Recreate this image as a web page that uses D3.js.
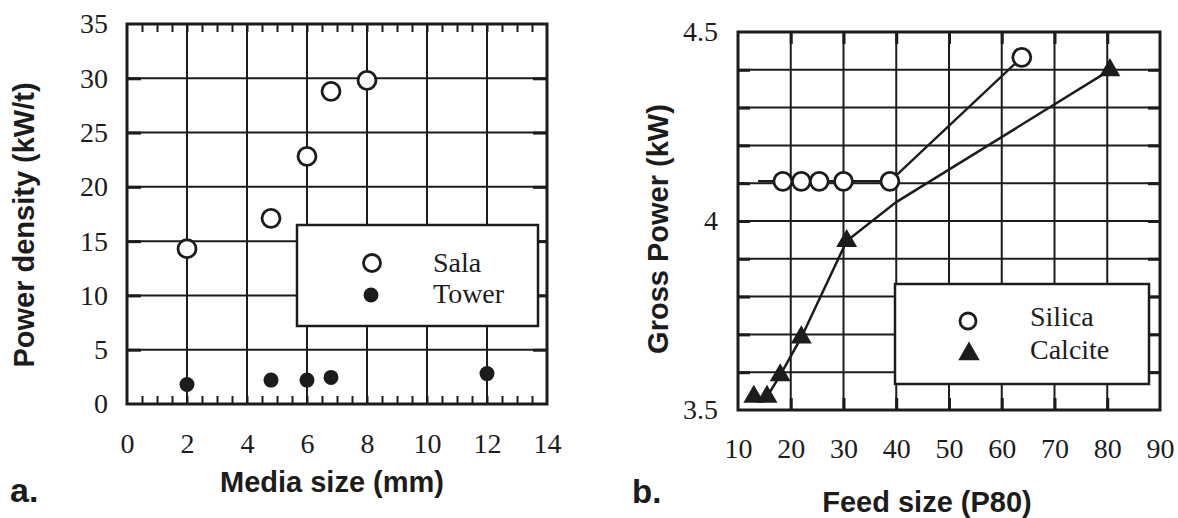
<!DOCTYPE html>
<html><head><meta charset="utf-8">
<script src="https://cdn.jsdelivr.net/npm/d3@7"></script>
<style>body{margin:0;background:#fff}svg{display:block}</style>
</head><body><svg id="c" width="1178" height="518"></svg>
<script>
// ---------- Panel a : Power density vs media size ----------
const mediaSizeTicks = [0, 2, 4, 6, 8, 10, 12, 14];
const powerDensityTicks = [0, 5, 10, 15, 20, 25, 30, 35];
const salaMedia = [2.0, 4.8, 6.0, 6.8, 8.0];
const salaPower = [14.3, 17.1, 22.8, 28.8, 29.8];
const towerMedia = [2.0, 4.8, 6.0, 6.8, 12.0];
const towerPower = [1.8, 2.2, 2.2, 2.45, 2.8];
const legendA = ["Sala", "Tower"];

// ---------- Panel b : Gross power vs feed size ----------
const feedTicks = [10, 20, 30, 40, 50, 60, 70, 80, 90];
const grossTicks = [3.5, 4, 4.5];
const grossGrid = [3.6, 3.7, 3.8, 3.9, 4.0, 4.1, 4.2, 4.3, 4.4];
const silicaFeed = [18.5, 22.0, 25.4, 30.0, 38.8, 63.8];
const silicaPower = [4.105, 4.105, 4.105, 4.105, 4.105, 4.433];
const silicaLineFeed = [13.8, 38.8, 63.8];
const silicaLinePower = [4.105, 4.105, 4.433];
const calciteFeed = [13.0, 15.5, 18.0, 22.0, 30.6, 80.5];
const calcitePower = [3.535, 3.535, 3.592, 3.692, 3.947, 4.399];
const calciteLineFeed = [15.5, 18.0, 22.0, 30.6, 40.0, 80.5];
const calciteLinePower = [3.535, 3.592, 3.692, 3.947, 4.05, 4.399];
const legendB = ["Silica", "Calcite"];

const INK = "#1c1c1c";
const SERIF = "'Liberation Serif','Times New Roman',serif";
const SANS = "'Liberation Sans',Arial,Helvetica,sans-serif";

const svg = d3.select("#c");
svg.append("rect").attr("width", 1178).attr("height", 518).attr("fill", "#fff");

function styleAxis(g) {
  g.select(".domain").remove();
  g.selectAll("text").attr("font-family", SERIF).attr("font-size", 28).attr("fill", INK);
  g.attr("font-family", null).attr("font-size", null);
}

// ===== Panel a =====
const xA = d3.scaleLinear().domain([0, 14]).range([127, 547]);
const yA = d3.scaleLinear().domain([0, 35]).range([404, 24]);
const gA = svg.append("g");

// grid
gA.append("g").selectAll("line").data(mediaSizeTicks.slice(1, -1)).join("line")
  .attr("x1", d => xA(d)).attr("x2", d => xA(d)).attr("y1", yA(35)).attr("y2", yA(0))
  .attr("stroke", INK).attr("stroke-width", 2);
gA.append("g").selectAll("line").data(powerDensityTicks.slice(1, -1)).join("line")
  .attr("y1", d => yA(d)).attr("y2", d => yA(d)).attr("x1", xA(0)).attr("x2", xA(14))
  .attr("stroke", INK).attr("stroke-width", 2);
// minor ticks top & bottom
const minorA = d3.range(0.5, 14, 0.5);
gA.append("g").attr("transform", `translate(0,${yA(0)})`)
  .call(d3.axisBottom(xA).tickValues(minorA).tickSize(-8).tickFormat(""))
  .call(g => { g.select(".domain").remove(); g.selectAll("line").attr("stroke", INK).attr("stroke-width", 2); });
gA.append("g").attr("transform", `translate(0,${yA(35)})`)
  .call(d3.axisTop(xA).tickValues(minorA).tickSize(-8).tickFormat(""))
  .call(g => { g.select(".domain").remove(); g.selectAll("line").attr("stroke", INK).attr("stroke-width", 2); });
// stubs left/right
gA.append("g").attr("transform", `translate(${xA(0)},0)`)
  .call(d3.axisLeft(yA).tickValues(powerDensityTicks.slice(1, -1)).tickSize(-14).tickFormat(""))
  .call(g => { g.select(".domain").remove(); g.selectAll("line").attr("stroke", INK).attr("stroke-width", 3); });
gA.append("g").attr("transform", `translate(${xA(14)},0)`)
  .call(d3.axisRight(yA).tickValues(powerDensityTicks.slice(1, -1)).tickSize(-14).tickFormat(""))
  .call(g => { g.select(".domain").remove(); g.selectAll("line").attr("stroke", INK).attr("stroke-width", 3); });
// frame
gA.append("rect").attr("x", xA(0)).attr("y", yA(35)).attr("width", xA(14) - xA(0)).attr("height", yA(0) - yA(35))
  .attr("fill", "none").attr("stroke", INK).attr("stroke-width", 3);
// axes labels
gA.append("g").attr("transform", `translate(0,${yA(0)})`)
  .call(d3.axisBottom(xA).tickValues(mediaSizeTicks).tickSize(0).tickPadding(29)).call(styleAxis);
gA.append("g").attr("transform", `translate(${xA(0)},0)`)
  .call(d3.axisLeft(yA).tickValues(powerDensityTicks).tickSize(0).tickPadding(19)).call(styleAxis);

// legend a
gA.append("rect").attr("x", 297).attr("y", 225).attr("width", 241).attr("height", 101)
  .attr("fill", "#fff").attr("stroke", INK).attr("stroke-width", 2.5);
gA.append("circle").attr("cx", 372).attr("cy", 263).attr("r", 8.5)
  .attr("fill", "#fff").attr("stroke", INK).attr("stroke-width", 2.8);
gA.append("circle").attr("cx", 371).attr("cy", 295).attr("r", 7.5).attr("fill", INK);
gA.append("g").selectAll("text").data(legendA).join("text")
  .attr("x", 433).attr("y", (d, i) => 272 + i * 31)
  .attr("font-family", SERIF).attr("font-size", 28).attr("fill", INK).text(d => d);

// data a
gA.append("g").selectAll("circle").data(salaMedia).join("circle")
  .attr("cx", d => xA(d)).attr("cy", (d, i) => yA(salaPower[i])).attr("r", 9)
  .attr("fill", "#fff").attr("stroke", INK).attr("stroke-width", 2.8);
gA.append("g").selectAll("circle").data(towerMedia).join("circle")
  .attr("cx", d => xA(d)).attr("cy", (d, i) => yA(towerPower[i])).attr("r", 7.5)
  .attr("fill", INK);

// titles a
gA.append("text").attr("transform", "translate(34,225) rotate(-90)").attr("text-anchor", "middle")
  .attr("font-family", SANS).attr("font-weight", "bold").attr("font-size", 29).attr("fill", INK)
  .text("Power density (kW/t)");
gA.append("text").attr("x", 332).attr("y", 492).attr("text-anchor", "middle")
  .attr("font-family", SANS).attr("font-weight", "bold").attr("font-size", 29).attr("fill", INK)
  .text("Media size (mm)");
gA.append("text").attr("x", 10).attr("y", 502)
  .attr("font-family", SANS).attr("font-weight", "bold").attr("font-size", 34).attr("fill", INK)
  .text("a.");

// ===== Panel b =====
const xB = d3.scaleLinear().domain([10, 90]).range([738, 1160]);
const yB = d3.scaleLinear().domain([3.5, 4.5]).range([410, 32]);
const gB = svg.append("g");

gB.append("g").selectAll("line").data(feedTicks.slice(1, -1)).join("line")
  .attr("x1", d => xB(d)).attr("x2", d => xB(d)).attr("y1", yB(4.5)).attr("y2", yB(3.5))
  .attr("stroke", INK).attr("stroke-width", 2);
gB.append("g").selectAll("line").data(grossGrid).join("line")
  .attr("y1", d => yB(d)).attr("y2", d => yB(d)).attr("x1", xB(10)).attr("x2", xB(90))
  .attr("stroke", INK).attr("stroke-width", 2);
gB.append("g").attr("transform", `translate(${xB(10)},0)`)
  .call(d3.axisLeft(yB).tickValues(grossGrid).tickSize(-12).tickFormat(""))
  .call(g => { g.select(".domain").remove(); g.selectAll("line").attr("stroke", INK).attr("stroke-width", 3); });
gB.append("g").attr("transform", `translate(${xB(90)},0)`)
  .call(d3.axisRight(yB).tickValues(grossGrid).tickSize(-12).tickFormat(""))
  .call(g => { g.select(".domain").remove(); g.selectAll("line").attr("stroke", INK).attr("stroke-width", 3); });
gB.append("g").attr("transform", `translate(0,${yB(4.5)})`)
  .call(d3.axisTop(xB).tickValues(feedTicks.slice(1, -1)).tickSize(-12).tickFormat(""))
  .call(g => { g.select(".domain").remove(); g.selectAll("line").attr("stroke", INK).attr("stroke-width", 3); });
gB.append("g").attr("transform", `translate(0,${yB(3.5)})`)
  .call(d3.axisBottom(xB).tickValues(feedTicks.slice(1, -1)).tickSize(-12).tickFormat(""))
  .call(g => { g.select(".domain").remove(); g.selectAll("line").attr("stroke", INK).attr("stroke-width", 3); });
gB.append("rect").attr("x", xB(10)).attr("y", yB(4.5)).attr("width", xB(90) - xB(10)).attr("height", yB(3.5) - yB(4.5))
  .attr("fill", "none").attr("stroke", INK).attr("stroke-width", 3);

gB.append("g").attr("transform", `translate(0,${yB(3.5)})`)
  .call(d3.axisBottom(xB).tickValues(feedTicks).tickSize(0).tickPadding(28)).call(styleAxis);
gB.append("g").attr("transform", `translate(${xB(10)},0)`)
  .call(d3.axisLeft(yB).tickValues(grossTicks).tickSize(0).tickPadding(20).tickFormat(d3.format("")))
  .call(styleAxis);

// legend b
gB.append("rect").attr("x", 895).attr("y", 284).attr("width", 254).attr("height", 100)
  .attr("fill", "#fff").attr("stroke", INK).attr("stroke-width", 2.5);
gB.append("circle").attr("cx", 968).attr("cy", 321).attr("r", 8)
  .attr("fill", "#fff").attr("stroke", INK).attr("stroke-width", 2.8);
gB.append("path").attr("transform", "translate(969,354)")
  .attr("d", d3.symbol(d3.symbolTriangle, 200)()).attr("fill", INK);
gB.append("g").selectAll("text").data(legendB).join("text")
  .attr("x", 1030).attr("y", (d, i) => 326 + i * 33)
  .attr("font-family", SERIF).attr("font-size", 28).attr("fill", INK).text(d => d);

// lines b
const lineB = d3.line().x(d => xB(d[0])).y(d => yB(d[1]));
gB.append("path").datum(silicaLineFeed.map((f, i) => [f, silicaLinePower[i]]))
  .attr("d", lineB).attr("fill", "none").attr("stroke", INK).attr("stroke-width", 2.5);
gB.append("path").datum(calciteLineFeed.map((f, i) => [f, calciteLinePower[i]]))
  .attr("d", lineB).attr("fill", "none").attr("stroke", INK).attr("stroke-width", 2.5);

// markers b
gB.append("g").selectAll("circle").data(silicaFeed).join("circle")
  .attr("cx", d => xB(d)).attr("cy", (d, i) => yB(silicaPower[i])).attr("r", 9)
  .attr("fill", "#fff").attr("stroke", INK).attr("stroke-width", 2.8);
gB.append("g").selectAll("path").data(calciteFeed).join("path")
  .attr("transform", (d, i) => `translate(${xB(d)},${yB(calcitePower[i])})`)
  .attr("d", d3.symbol(d3.symbolTriangle, 190)()).attr("fill", INK);

// titles b
gB.append("text").attr("transform", "translate(668,229) rotate(-90)").attr("text-anchor", "middle")
  .attr("font-family", SANS).attr("font-weight", "bold").attr("font-size", 29).attr("fill", INK)
  .text("Gross Power (kW)");
gB.append("text").attr("x", 927).attr("y", 512).attr("text-anchor", "middle")
  .attr("font-family", SANS).attr("font-weight", "bold").attr("font-size", 29).attr("fill", INK)
  .text("Feed size (P80)");
gB.append("text").attr("x", 632).attr("y", 503)
  .attr("font-family", SANS).attr("font-weight", "bold").attr("font-size", 33).attr("fill", INK)
  .text("b.");
</script>
</body></html>
